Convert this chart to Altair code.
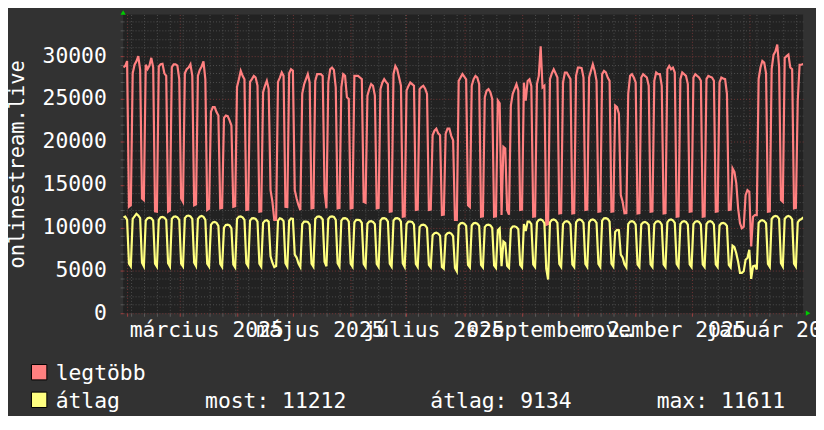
import altair as alt
import pandas as pd

# ---------------- data ----------------
# one value per day; first day = Wed 2025-01-29.  rrdtool style: a day's value is drawn at the end of that day.
first_day = "2025-01-29"

# "legtöbb" (daily maximum) – rows: leading partial week, then Mon..Sun weeks
legtobb_weeks = [
    [28700, 28860, 29430, 12430, 12600],                 # Wed 29 Jan - Sun 2 Feb
    [28000, 29000, 29400, 30000, 28400, 13400, 13200],   # 3 Feb
    [29000, 28500, 28900, 29800, 28700, 11900, 11850],   # 10 Feb
    [28800, 29050, 29100, 28000, 27700, 11850, 12000],   # 17 Feb
    [28700, 29050, 29050, 28900, 27300, 13400, 13000],   # 24 Feb
    [28000, 28470, 28670, 29050, 27700, 12600, 12700],   # 3 Mar
    [27700, 28400, 28800, 29400, 27300, 12050, 12200],   # 10 Mar
    [23500, 24050, 24050, 23470, 23080, 12240, 12300],   # 17 Mar
    [22800, 23080, 23000, 22500, 21900, 12430, 12500],   # 24 Mar
    [26400, 27300, 28280, 27700, 27300, 12050, 12100],   # 31 Mar
    [27000, 27320, 27700, 27510, 26550, 11850, 11900],   # 7 Apr
    [25800, 26550, 27120, 26160, 14360, 13010, 10890],   # 14 Apr
    [10900, 27000, 27500, 28100, 27700, 12430, 12400],   # 21 Apr
    [28000, 28470, 28300, 14360, 13400, 12600, 12050],   # 28 Apr
    [25600, 26700, 27320, 27900, 26930, 12240, 12300],   # 5 May
    [27120, 27900, 27900, 27900, 27700, 14200, 12240],   # 12 May
    [26930, 28470, 28670, 28400, 26360, 12240, 12300],   # 19 May
    [26360, 27900, 27700, 25200, 25010, 12240, 12300],   # 26 May
    [27700, 27700, 27700, 27510, 27320, 13010, 12900],   # 2 Jun
    [25400, 26160, 26740, 26550, 25400, 12240, 12300],   # 9 Jun
    [26160, 26900, 27320, 27000, 26740, 11850, 11900],   # 16 Jun
    [27900, 28860, 28470, 27500, 26550, 11270, 11300],   # 23 Jun
    [25970, 26500, 26930, 26740, 26550, 12050, 12100],   # 30 Jun
    [26160, 26400, 26550, 26200, 25590, 12050, 12100],   # 7 Jul
    [20770, 21300, 21540, 21000, 20770, 11460, 11500],   # 14 Jul
    [20960, 21540, 21540, 20700, 20190, 10890, 10900],   # 21 Jul
    [27120, 27500, 27900, 27600, 27300, 12600, 12400],   # 28 Jul
    [26550, 27320, 27700, 27500, 26740, 11270, 11300],   # 4 Aug
    [25200, 25970, 26160, 25800, 25010, 11270, 11300],   # 11 Aug
    [24820, 24500, 11460, 19420, 19230, 12050, 11500],   # 18 Aug
    [24240, 25600, 26160, 26740, 26000, 12050, 12100],   # 25 Aug
    [26900, 24800, 27100, 27300, 26500, 11270, 11300],   # 1 Sep
    [26740, 27700, 31150, 26350, 26550, 10310, 10400],   # 8 Sep
    [27320, 28000, 28470, 28000, 27510, 11660, 11700],   # 15 Sep
    [26930, 28090, 28090, 27700, 27320, 11660, 11700],   # 22 Sep
    [27700, 28670, 28670, 28600, 27510, 12050, 12100],   # 29 Sep
    [27510, 28300, 29050, 28280, 27120, 11850, 11900],   # 6 Oct
    [27900, 28280, 28100, 27500, 27120, 11850, 11900],   # 13 Oct
    [24240, 24050, 23280, 13780, 13010, 11660, 11700],   # 20 Oct
    [25590, 27700, 27900, 27500, 26930, 11660, 11700],   # 27 Oct
    [27510, 27900, 27700, 27510, 26550, 11850, 11900],   # 3 Nov
    [27120, 28090, 27900, 27900, 26550, 11660, 11700],   # 10 Nov
    [28470, 28860, 28470, 28670, 28090, 11270, 11300],   # 17 Nov
    [27320, 28090, 27900, 27700, 26740, 11850, 11900],   # 24 Nov
    [27510, 27900, 27700, 27510, 27120, 11270, 11300],   # 1 Dec
    [27320, 27700, 27600, 27510, 27120, 11850, 11900],   # 8 Dec
    [26930, 27510, 27400, 27320, 25590, 12050, 12100],   # 15 Dec
    [16910, 16500, 15180, 12240, 10500,  9920, 10110],   # 22 Dec
    [13780, 14360, 14170,  7800, 11270, 11460, 11460],   # 29 Dec
    [27320, 28670, 29430, 29240, 28000, 11850, 11900],   # 5 Jan
    [28500, 30150, 30550, 31350, 28700, 13200, 13000],   # 12 Jan
    [29800, 30000, 30190, 28670, 28470, 12240, 12300],   # 19 Jan
    [24800, 29000, 29000, 29100],                        # 26 Jan - 29 Jan
]

# "átlag" (daily average)
atlag_weeks = [
    [11200, 11270, 10890, 5800, 5480],
    [11000, 11300, 11600, 11400, 11100, 5900, 5480],
    [10800, 11080, 11150, 11080, 10800, 5800, 5450],
    [10900, 11200, 11250, 11150, 10900, 5850, 5450],
    [11000, 11270, 11300, 11200, 10900, 5800, 5480],
    [11100, 11350, 11400, 11300, 11000, 5900, 5500],
    [11000, 11270, 11350, 11250, 10900, 5800, 5450],
    [10300, 10600, 10650, 10550, 10200, 5750, 5400],
    [10000, 10310, 10350, 10250, 9900, 5700, 5350],
    [11000, 11270, 11300, 11200, 10900, 5850, 5480],
    [10800, 11080, 11100, 11000, 10700, 5800, 5450],
    [10550, 10800, 10850, 10700, 6640, 5900, 5400],
    [5500, 10800, 11080, 11000, 10750, 5850, 5450],
    [10800, 11050, 11000, 6830, 6500, 5800, 5400],
    [10400, 10690, 10700, 10650, 10350, 5800, 5450],
    [11000, 11270, 11300, 11200, 10950, 6000, 5480],
    [11000, 11270, 11300, 11250, 10900, 5850, 5450],
    [10800, 11080, 11100, 11000, 10700, 5800, 5450],
    [10600, 10890, 10900, 10850, 10550, 5750, 5400],
    [10450, 10700, 10750, 10650, 10400, 5750, 5400],
    [10800, 11080, 11100, 11000, 10700, 5800, 5450],
    [10800, 11080, 11100, 11000, 10700, 5800, 5400],
    [10400, 10690, 10700, 10650, 10350, 5750, 5400],
    [10050, 10310, 10350, 10250, 9950, 5650, 5350],
    [9100, 9340, 9400, 9300, 9050, 5400, 5200],
    [9100, 9340, 9400, 9300, 9000, 5300, 4900],
    [10250, 10500, 10550, 10450, 10200, 5650, 5350],
    [10250, 10500, 10550, 10450, 10200, 5650, 5350],
    [10050, 10310, 10350, 10250, 9950, 5600, 5300],
    [9700, 9920, 5500, 8380, 8200, 5550, 5300],
    [9850, 10110, 10150, 10050, 9800, 5650, 5350],
    [10400, 9600, 10690, 10700, 10400, 5700, 5400],
    [10600, 10890, 10950, 10850, 10500, 5200, 3940],
    [10600, 10890, 10950, 10850, 10550, 5750, 5400],
    [10400, 10690, 10750, 10650, 10350, 5700, 5400],
    [10600, 10890, 10950, 10850, 10550, 5750, 5400],
    [10600, 10890, 10950, 10850, 10550, 5750, 5400],
    [10800, 11080, 11100, 11000, 10700, 5800, 5450],
    [9500, 9730, 9700, 6830, 6500, 5700, 5350],
    [10400, 10690, 10750, 10650, 10350, 5700, 5400],
    [10350, 10600, 10650, 10550, 10300, 5700, 5400],
    [10400, 10690, 10750, 10650, 10350, 5700, 5400],
    [10600, 10890, 10950, 10850, 10550, 5750, 5400],
    [10400, 10690, 10750, 10650, 10350, 5700, 5400],
    [10400, 10690, 10750, 10650, 10350, 5700, 5400],
    [10400, 10690, 10750, 10650, 10350, 5700, 5400],
    [10250, 10500, 10550, 10450, 10200, 5650, 5350],
    [7900, 7720, 7000, 6000, 4710, 4710, 4900],
    [6250, 6450, 7410, 4010, 5480, 5560, 5100],
    [10550, 10800, 10850, 10750, 10500, 5750, 5400],
    [11000, 11270, 11350, 11300, 11000, 5850, 5450],
    [11000, 11270, 11350, 11250, 10950, 5800, 5450],
    [10600, 10890, 11000, 11212],
]

series_names = ["legtöbb", "átlag"]
series_colors = ["#ff8080", "#ffff80"]
stats_labels = ["most: 11212", "átlag: 9134", "max: 11611"]
y_axis_title = "onlinestream.live"

x_tick_times = ["2025-03-15 12:00", "2025-05-15 12:00", "2025-07-15 12:00",
                "2025-09-15 12:00", "2025-11-15 12:00", "2026-01-15 12:00"]
x_tick_labels = ["március 2025", "május 2025", "július 2025",
                 "szeptember 2025", "november 2025", "január 2026"]
x_start, x_end = "2025-01-29 21:00", "2026-01-29 21:00"
y_top = 34865

# ---------------- build tables ----------------
def ms(ts):
    return int(pd.Timestamp(ts).value // 10**6)

max_values = [v for w in legtobb_weeks for v in w]
avg_values = [v for w in atlag_weeks for v in w]
days = pd.date_range(first_day, periods=len(max_values), freq="D")
t_ms = [ms(d + pd.Timedelta(days=1)) for d in days]
df = pd.DataFrame({
    "t": t_ms * 2,
    "value": max_values + avg_values,
    "series": [series_names[0]] * len(max_values) + [series_names[1]] * len(avg_values),
})

month_starts = [ms(d) for d in pd.date_range("2025-02-01", "2026-01-01", freq="MS")]
mondays = [ms(d) for d in pd.date_range("2025-02-03", "2026-01-26", freq="W-MON")]
label_ms = [ms(t) for t in x_tick_times]
x_values = sorted(set(month_starts) | set(mondays) | set(label_ms))

label_expr = "''"
for m, lab in zip(label_ms, x_tick_labels):
    label_expr = f"(+datum.value) == {m} ? '{lab}' : ({label_expr})"

FONT = "DejaVu Sans Mono"
FS = 21.5
MAJOR = "#733636"
MINOR = "#4f4f4f"
is_month = "utcdate(datum.value) == 1 && utchours(datum.value) == 0"
is_label = "utchours(datum.value) == 12"

x_axis = alt.Axis(
    values=x_values, labelExpr=label_expr, title=None,
    grid=True, gridDash=[1, 2], gridWidth=1,
    gridColor={"condition": {"test": is_month, "value": MAJOR}, "value": MINOR},
    gridOpacity={"condition": {"test": is_label, "value": 0}, "value": 1},
    ticks=True, tickSize=3,
    tickColor={"condition": {"test": is_month, "value": "#a04040"}, "value": "#5a5a5a"},
    tickOpacity={"condition": {"test": is_label, "value": 0}, "value": 1},
    domain=False, labelPadding=3, labelBaseline="top", labelAlign="center",
    labelOverlap=False, labelBound=False, labelFlush=False,
    labelFont=FONT, labelFontSize=FS, labelColor="#ffffff",
)
y_axis = alt.Axis(
    values=list(range(0, 35000, 1000)), format="d",
    labelExpr="datum.value % 5000 == 0 ? datum.label : ''",
    grid=True, gridDash=[1, 2], gridWidth=1,
    gridColor={"condition": {"test": "datum.value % 5000 == 0", "value": MAJOR}, "value": MINOR},
    ticks=True, tickSize=3,
    tickColor={"condition": {"test": "datum.value % 5000 == 0", "value": "#a04040"}, "value": "#5a5a5a"},
    domain=False, labelPadding=14, labelOverlap=False, labelFlush=False,
    labelFont=FONT, labelFontSize=FS, labelColor="#ffffff",
    title=y_axis_title, titleFont=FONT, titleFontSize=20.5, titleFontWeight="normal",
    titleColor="#ffffff", titleAngle=270, titleX=-100, titleY=150.5,
    titleAlign="center", titleBaseline="alphabetic",
)

x_scale = alt.Scale(type="utc", domain=[ms(x_start), ms(x_end)])
y_scale = alt.Scale(domain=[0, y_top], nice=False, zero=True)

lines = alt.Chart(df).mark_line(strokeWidth=2.2, clip=True).encode(
    x=alt.X("t:T", scale=x_scale, axis=x_axis),
    y=alt.Y("value:Q", scale=y_scale, axis=y_axis),
    color=alt.Color("series:N", scale=alt.Scale(domain=series_names, range=series_colors), legend=None),
)

one = pd.DataFrame({"k": [0]})
arrow_up = alt.Chart(one).mark_point(shape="triangle-up", filled=True, size=28, color="#00cc00", opacity=1).encode(
    x=alt.value(0), y=alt.value(-2))
arrow_right = alt.Chart(one).mark_point(shape="triangle-right", filled=True, size=28, color="#00cc00", opacity=1).encode(
    x=alt.value(690), y=alt.value(301))

legend_layers = []
row_y = [360.4, 388.2]
row_base = [368.0, 396.3]
for i in range(2):
    legend_layers.append(
        alt.Chart(one).mark_square(size=240, filled=True, fill=series_colors[i], stroke="#000000",
                                   strokeWidth=1, opacity=1).encode(x=alt.value(-84.6), y=alt.value(row_y[i])))
    legend_layers.append(
        alt.Chart(pd.DataFrame({"name": [series_names[i]]})).mark_text(
            font=FONT, fontSize=FS, color="#ffffff", align="left", baseline="alphabetic"
        ).encode(text="name:N", x=alt.value(-68), y=alt.value(row_base[i])))

stat_x = [82.5, 309.5, 537.5]
for sx, s in zip(stat_x, stats_labels):
    legend_layers.append(
        alt.Chart(pd.DataFrame({"s": [s]})).mark_text(
            font=FONT, fontSize=FS, color="#ffffff", align="left", baseline="alphabetic"
        ).encode(text="s:N", x=alt.value(sx), y=alt.value(row_base[1])))

chart = alt.layer(lines, arrow_up, arrow_right, *legend_layers).properties(
    width=685, height=301,
    autosize=alt.AutoSizeParams(type="none"),
    padding={"left": 116, "top": 5, "right": 13, "bottom": 102},
    background="#323232",
).configure_view(fill="#222222", stroke=None)

chart.save("out.html", embed_options={"renderer": "svg", "actions": False})
